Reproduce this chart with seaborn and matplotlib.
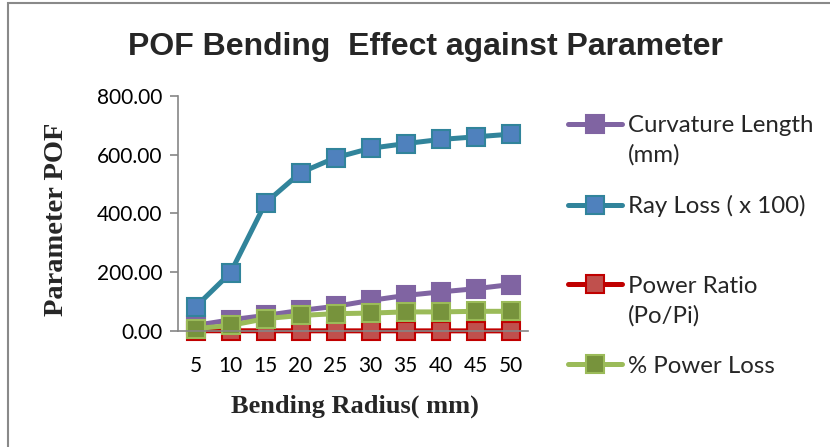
import numpy as np
import pandas as pd
import matplotlib
matplotlib.use("Agg")
import matplotlib.pyplot as plt
import seaborn as sns
from matplotlib.patches import Rectangle
from matplotlib.lines import Line2D

# ---- data ----
radius = ["5", "10", "15", "20", "25", "30", "35", "40", "45", "50"]
curvature_length = [19, 38, 53, 70, 84, 104, 121, 133, 144, 158]
ray_loss = [82, 198, 436, 539, 590, 622, 638, 652, 661, 670]
power_ratio = [0.9, 0.8, 0.7, 0.6, 0.6, 0.5, 0.5, 0.5, 0.4, 0.4]
power_loss = [8, 19, 42, 53, 59, 61, 65, 65, 67, 67]

series_names = ["Curvature Length", "Ray Loss ( x 100)", "Power Ratio", "% Power Loss"]
series_extra = ["(mm)", "", "(Po/Pi)", ""]
series_values = [curvature_length, ray_loss, power_ratio, power_loss]
yticks = [0, 200, 400, 600, 800]
ytick_labels = ["0.00", "200.00", "400.00", "600.00", "800.00"]

line_colors = ["#8064A2", "#31849B", "#C00000", "#9BBB59"]
face_colors = ["#8064A2", "#4F81BD", "#C0504D", "#77933C"]
edge_colors = ["#8064A2", "#31849B", "#C00000", "#9BBB59"]

sns.set_style("white")
plt.rcParams["font.family"] = ["Lato", "DejaVu Sans"]

W, H = 830, 447
fig = plt.figure(figsize=(W / 100, H / 100), dpi=100)
ax = fig.add_axes([178 / W, 1 - 331 / H, 350 / W, 235 / H])

pos = np.arange(len(radius))
for name, vals, lc, fc, ec in zip(series_names, series_values, line_colors, face_colors, edge_colors):
    df = pd.DataFrame({"x": pos, "y": vals})
    sns.lineplot(data=df, x="x", y="y", ax=ax, color=lc, linewidth=3.6,
                 marker="s", markersize=13.5, markerfacecolor=fc,
                 markeredgecolor=ec, markeredgewidth=1.5, clip_on=False,
                 label=name, legend=False)

ax.set_xlim(-0.5, len(radius) - 0.5)
ax.set_ylim(0, 800)
ax.set_xticks(pos)
ax.set_xticklabels(radius)
ax.set_yticks(yticks)
ax.set_yticklabels(ytick_labels)
ax.tick_params(axis="x", length=0, pad=18, labelsize=15, colors="black")
ax.tick_params(axis="y", length=6, width=1.2, color="#868686", pad=5, labelsize=15, labelcolor="black", left=True)
for s in ["top", "right"]:
    ax.spines[s].set_visible(False)
for s in ["left", "bottom"]:
    ax.spines[s].set_color("#868686")
    ax.spines[s].set_linewidth(1.2)
ax.set_ylabel("Parameter POF", family=["Liberation Serif"], fontweight="bold", fontsize=20.5)
ax.set_xlabel("Bending Radius( mm)", family=["Liberation Serif"], fontweight="bold", fontsize=19)
ax.yaxis.set_label_coords((57 - 178) / 350, (331 - 219) / 235)
ax.yaxis.label.set_va("center")
ax.xaxis.set_label_coords((355 - 178) / 350, -(406 - 331) / 235)
ax.xaxis.label.set_va("center")

fig.text(425 / W, 1 - 47 / H, "POF Bending  Effect against Parameter",
         family=["Liberation Sans Narrow", "Liberation Sans"], fontweight="bold",
         fontsize=23, ha="center", va="center")

# legend
handles = [Line2D([0], [0], color=lc, linewidth=3.6, marker="s", markersize=13.5,
                  markerfacecolor=fc, markeredgecolor=ec, markeredgewidth=1.5)
           for lc, fc, ec in zip(line_colors, face_colors, edge_colors)]
leg = fig.legend(handles, series_names, loc="upper left",
                 bbox_to_anchor=(568 / W, 1 - 115 / H), frameon=False,
                 borderpad=0, borderaxespad=0,
                 fontsize=17.3, labelspacing=2.45, handlelength=2.25, handletextpad=0.25)
fig.canvas.draw()
renderer = fig.canvas.get_renderer()
for t, extra in zip(leg.get_texts(), series_extra):
    if extra:
        bb = t.get_window_extent(renderer)
        fig.text(bb.x0 / W, (bb.y0 - 30) / H, extra, fontsize=17.3, ha="left", va="bottom")

# figure border (partially cropped)
fig.patches.append(Rectangle((7.5 / W, -0.05), 1.2, 1 - 2.5 / H + 0.05, transform=fig.transFigure,
                             fill=False, edgecolor="#898989", linewidth=1.5))

fig.savefig("out.png", dpi=100)
